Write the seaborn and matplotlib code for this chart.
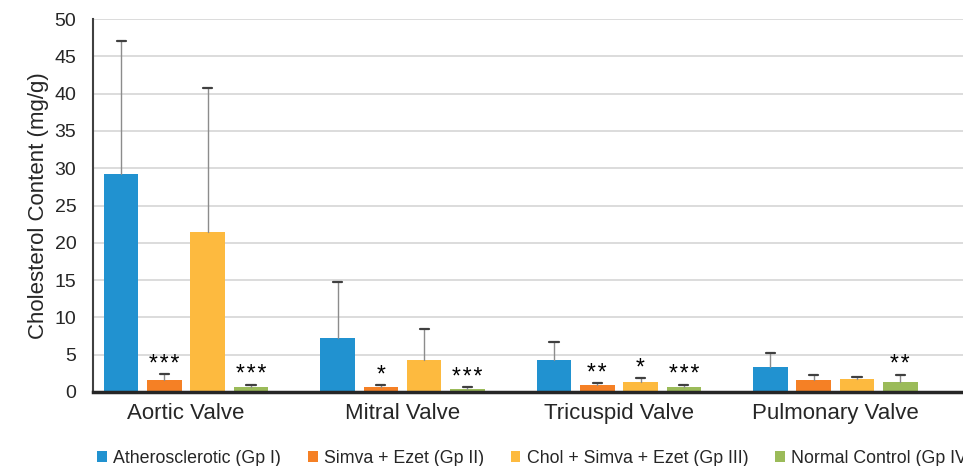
import pandas as pd
import matplotlib
matplotlib.use("Agg")
import matplotlib.pyplot as plt
import seaborn as sns

valves = ["Aortic Valve", "Mitral Valve", "Tricuspid Valve", "Pulmonary Valve"]
groups = ["Atherosclerotic (Gp I)", "Simva + Ezet (Gp II)",
          "Chol + Simva + Ezet (Gp III)", "Normal Control (Gp IV)"]

# means per group, in valve order
gp1 = [29.2, 7.2, 4.3, 3.4]
gp2 = [1.6, 0.7, 1.0, 1.6]
gp3 = [21.4, 4.3, 1.3, 1.7]
gp4 = [0.7, 0.4, 0.7, 1.3]

# upper error (SD)
gp1_sd = [17.8, 7.5, 2.4, 1.8]
gp2_sd = [0.8, 0.25, 0.15, 0.7]
gp3_sd = [19.3, 4.2, 0.6, 0.3]
gp4_sd = [0.25, 0.25, 0.3, 1.0]

# significance marks
gp1_sig = ["", "", "", ""]
gp2_sig = ["***", "*", "**", ""]
gp3_sig = ["", "", "*", ""]
gp4_sig = ["***", "***", "***", "**"]

colors = ["#2192D0", "#F58025", "#FDBA3F", "#9BBB59"]

rows = []
for g, m, s, sig in zip(groups, [gp1, gp2, gp3, gp4],
                        [gp1_sd, gp2_sd, gp3_sd, gp4_sd],
                        [gp1_sig, gp2_sig, gp3_sig, gp4_sig]):
    for v, mi, si, sg in zip(valves, m, s, sig):
        rows.append({"Valve": v, "Group": g, "Mean": mi, "SD": si, "Sig": sg})
df = pd.DataFrame(rows)

sns.set_style("white")
plt.rcParams["font.family"] = ["Liberation Sans", "DejaVu Sans"]

fig = plt.figure(figsize=(9.63, 4.66), dpi=100)
ax = fig.add_axes([0.0966, 0.1588, 0.9034, 0.8002])

sns.barplot(data=df, x="Valve", y="Mean", hue="Group", order=valves,
            hue_order=groups, palette=colors, width=0.8, gap=0.2,
            errorbar=None, saturation=1, linewidth=0, ax=ax, legend=True)

# error bars and stars, placed on the drawn bars
cap = 0.021
for gi, g in enumerate(groups):
    cont = ax.containers[gi]
    sub = df[df["Group"] == g].set_index("Valve").loc[valves]
    for bar, sd, sg in zip(cont.patches, sub["SD"], sub["Sig"]):
        xc = bar.get_x() + bar.get_width() / 2
        h = bar.get_height()
        ax.plot([xc, xc], [h, h + sd], color="#8C8C8C", lw=1, zorder=3)
        ax.plot([xc - cap, xc + cap], [h + sd, h + sd],
                color="#404040", lw=1.6, zorder=4)
        if sg:
            ax.annotate("\u200a".join(sg), (xc, h + sd), xytext=(0, 2.5),
                        textcoords="offset points", ha="center",
                        va="baseline", fontsize=16.5, color="black")

ax.set_ylim(0, 50)
ax.set_yticks(range(0, 51, 5))
ax.set_xlim(-0.43, 3.59)
ax.yaxis.grid(True, color="#D9D9D9", lw=1.3)
ax.set_axisbelow(True)
ax.tick_params(axis="y", labelsize=14, length=0, pad=12)
ax.tick_params(axis="x", labelsize=16, length=0, pad=8)
ax.set_xlabel("")
ax.set_ylabel("Cholesterol Content (mg/g)", fontsize=16, labelpad=4)

for s in ["top", "right"]:
    ax.spines[s].set_visible(False)
ax.spines["left"].set_color("#404040")
ax.spines["left"].set_linewidth(1.5)
ax.spines["bottom"].set_color("#262626")
ax.spines["bottom"].set_linewidth(2.5)

handles, labels = ax.get_legend_handles_labels()
ax.legend(handles, labels, loc="center left", bbox_to_anchor=(0.101, 0.017),
          bbox_transform=fig.transFigure, ncol=4, frameon=False, fontsize=12.8,
          handlelength=0.55, handleheight=0.55, handletextpad=0.35,
          columnspacing=1.5, borderaxespad=0, borderpad=0)

fig.savefig("out.png", dpi=100)
